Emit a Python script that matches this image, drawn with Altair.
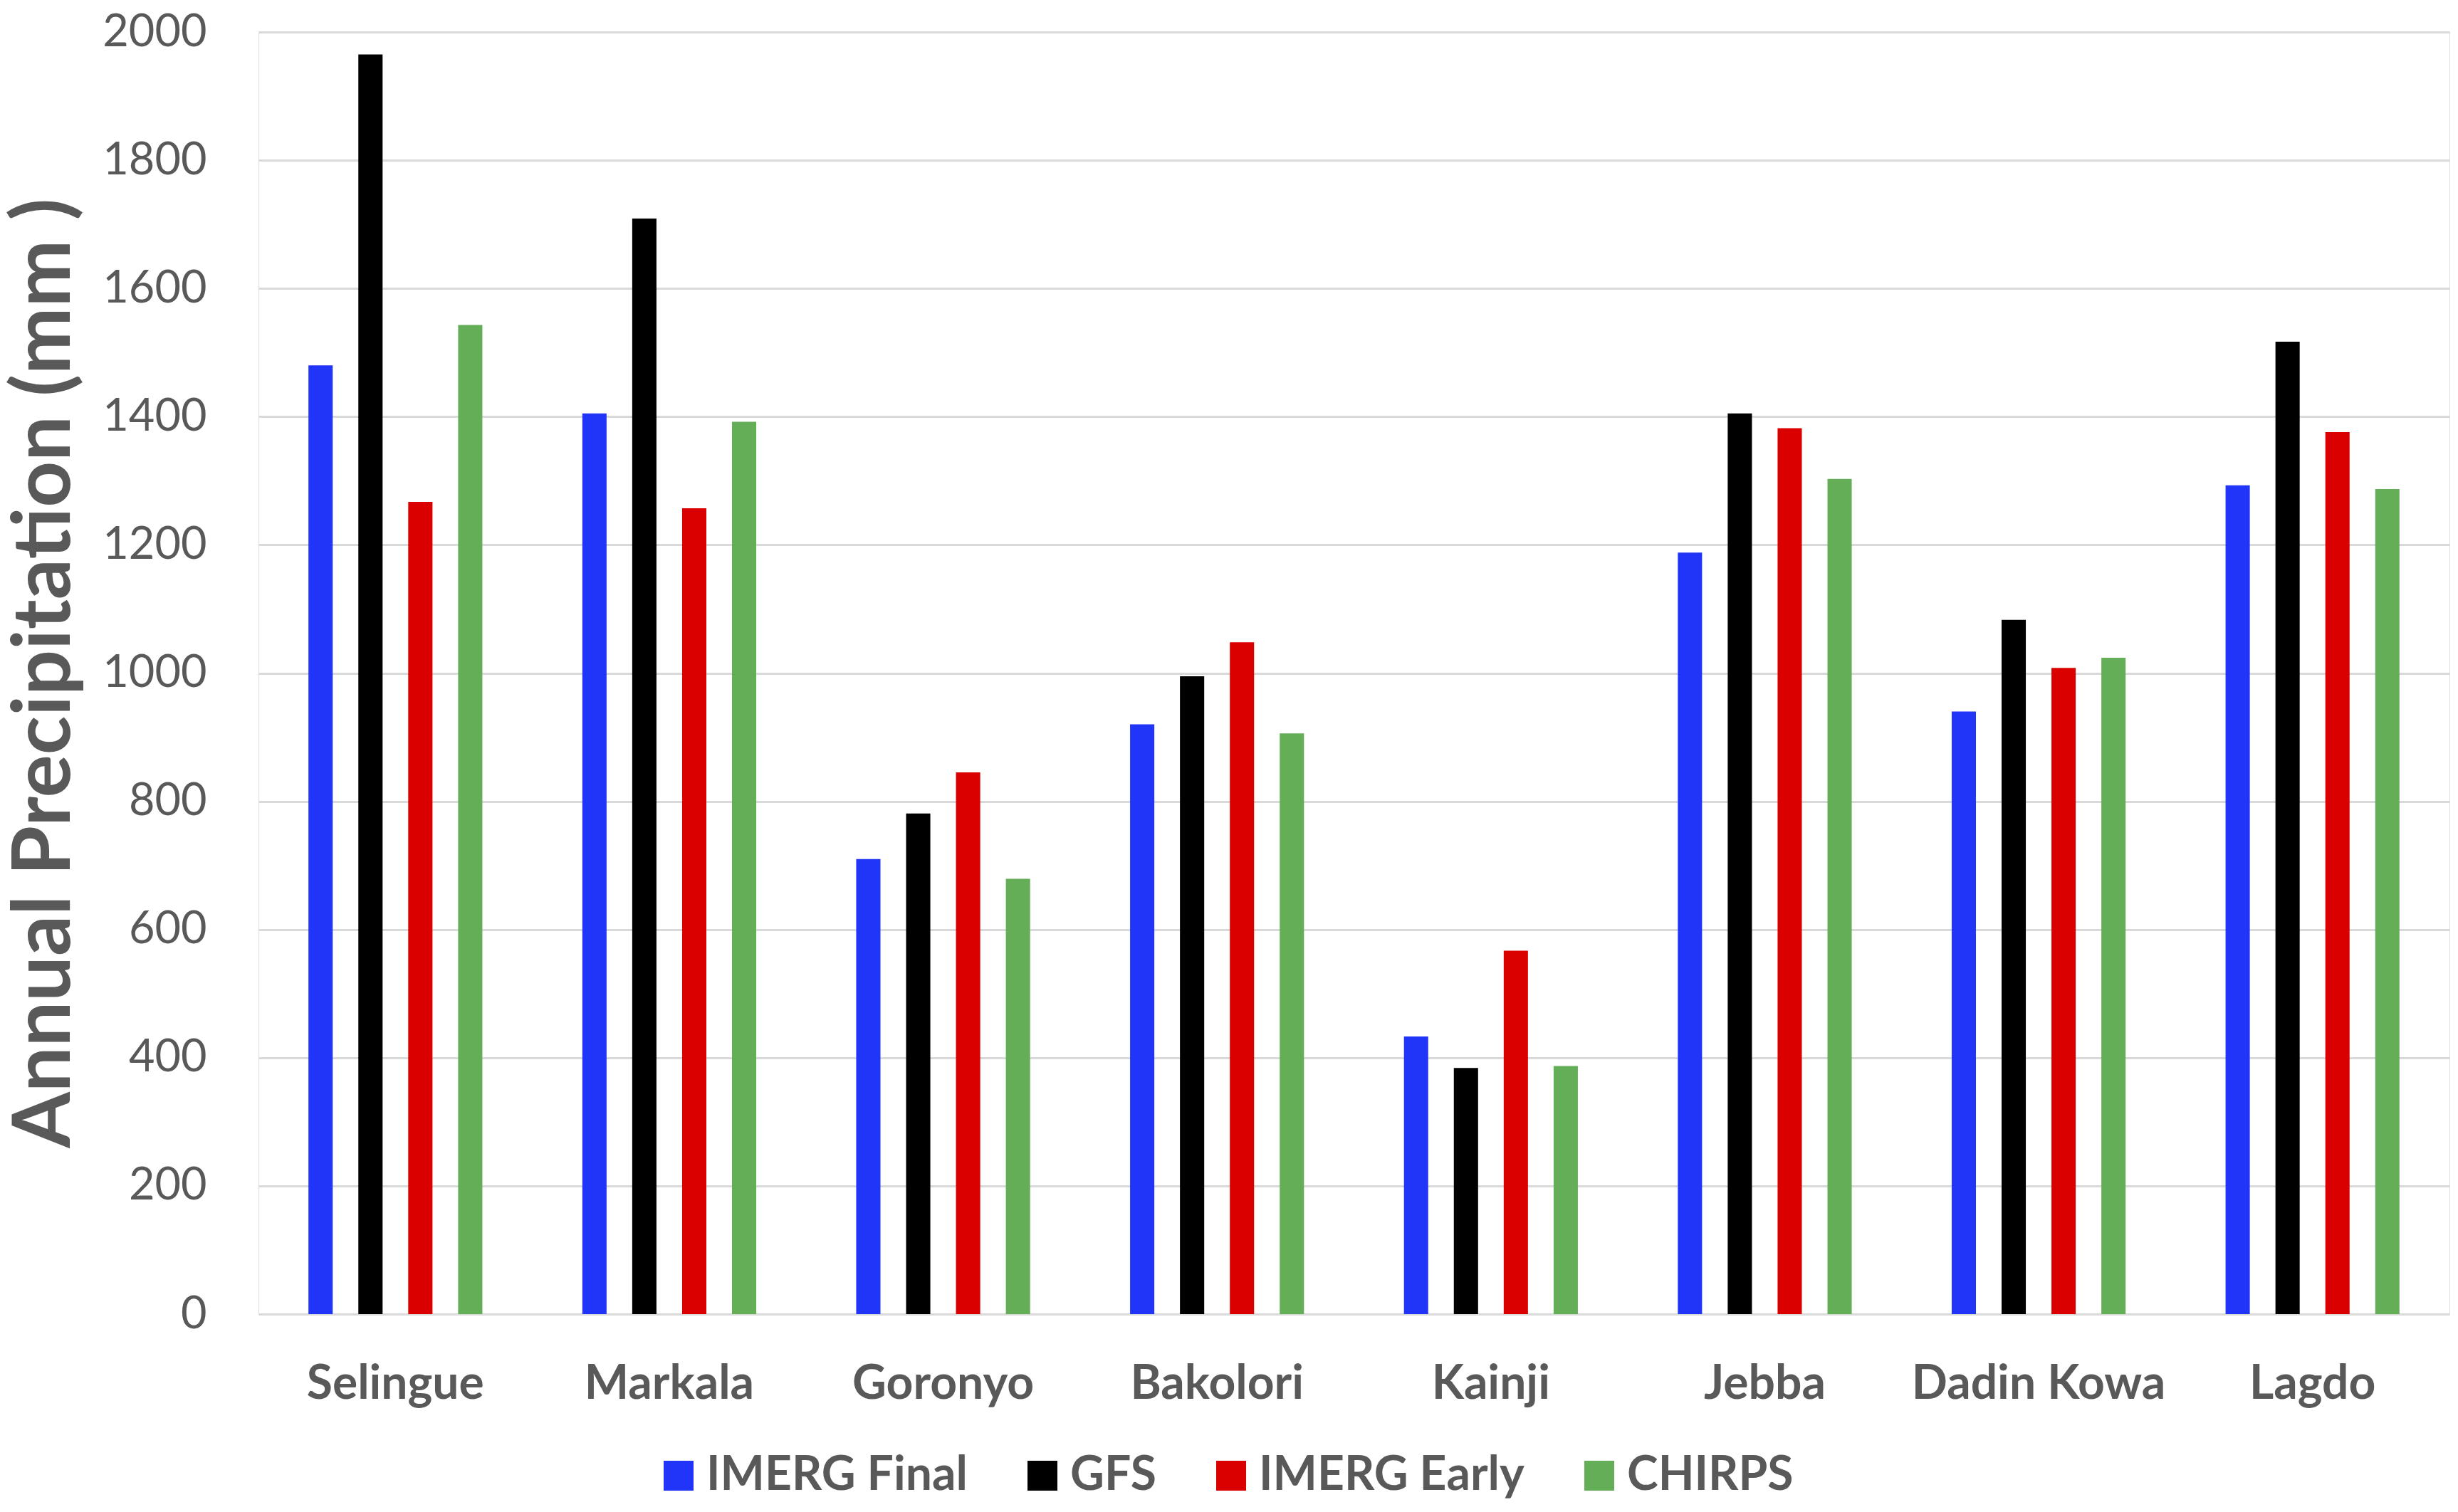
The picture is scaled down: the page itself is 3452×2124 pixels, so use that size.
import altair as alt
import pandas as pd

stations = ["Selingue", "Markala", "Goronyo", "Bakolori", "Kainji", "Jebba", "Dadin Kowa", "Lagdo"]
series = ["IMERG Final", "GFS", "IMERG Early", "CHIRPS"]
imerg_final = [1480, 1405, 710, 920, 433, 1188, 940, 1293]
gfs = [1965, 1709, 781, 995, 384, 1405, 1083, 1517]
imerg_early = [1267, 1257, 845, 1048, 567, 1382, 1008, 1376]
chirps = [1543, 1392, 679, 906, 387, 1303, 1024, 1287]
colors = ["#2035F8", "#000000", "#DA0000", "#63AE56"]
y_ticks = list(range(0, 2001, 200))

rows = []
for name, vals in zip(series, [imerg_final, gfs, imerg_early, chirps]):
    for st, v in zip(stations, vals):
        rows.append({"Station": st, "Series": name, "Value": v})
df = pd.DataFrame(rows)

TXT = "#595959"
FONT = "Lato"

chart = alt.Chart(df).mark_bar().encode(
    x=alt.X("Station:N", sort=stations,
            scale=alt.Scale(paddingInner=0.365, paddingOuter=0.1825),
            axis=alt.Axis(title=None, labelAngle=0, labelFont=FONT, labelFontSize=66,
                          labelFontWeight="bold", labelColor=TXT, labelPadding=66,
                          labelLimit=0, ticks=False, domain=False, grid=False)),
    xOffset=alt.XOffset("Series:N", sort=series,
                        scale=alt.Scale(paddingInner=0.514, paddingOuter=0)),
    y=alt.Y("Value:Q", scale=alt.Scale(domain=[0, 2000], nice=False),
            axis=alt.Axis(title="Annual Precipitation (mm )", values=y_ticks, format="d",
                          labelFont=FONT, labelFontSize=63, labelColor=TXT,
                          labelPadding=73, ticks=False, domain=False,
                          grid=True, gridColor="#D9D9D9", gridWidth=3,
                          titleFont=FONT, titleFontSize=113, titleFontWeight="bold",
                          titleColor=TXT, titleAngle=270, titleAlign="center",
                          titleBaseline="alphabetic", titleX=-266, titleY=900,
                          titleLimit=0)),
    color=alt.Color("Series:N", sort=series,
                    scale=alt.Scale(domain=series, range=colors),
                    legend=alt.Legend(title=None, orient="none", direction="horizontal",
                                      legendX=557, legendY=1995, symbolType="square",
                                      symbolSize=1764, symbolStrokeWidth=0,
                                      symbolOpacity=1, labelLimit=0,
                                      labelFont=FONT, labelFontSize=66,
                                      labelFontWeight="bold", labelColor=TXT,
                                      labelOffset=6, columnPadding=72, padding=0)),
).properties(
    width=3077,
    height=1801,
    autosize=alt.AutoSizeParams(type="none"),
    padding={"left": 355, "top": 37, "right": 4, "bottom": 270},
).configure_view(stroke=None).configure(background="white")

chart.save("out.html", embed_options={"renderer": "svg", "actions": False})
